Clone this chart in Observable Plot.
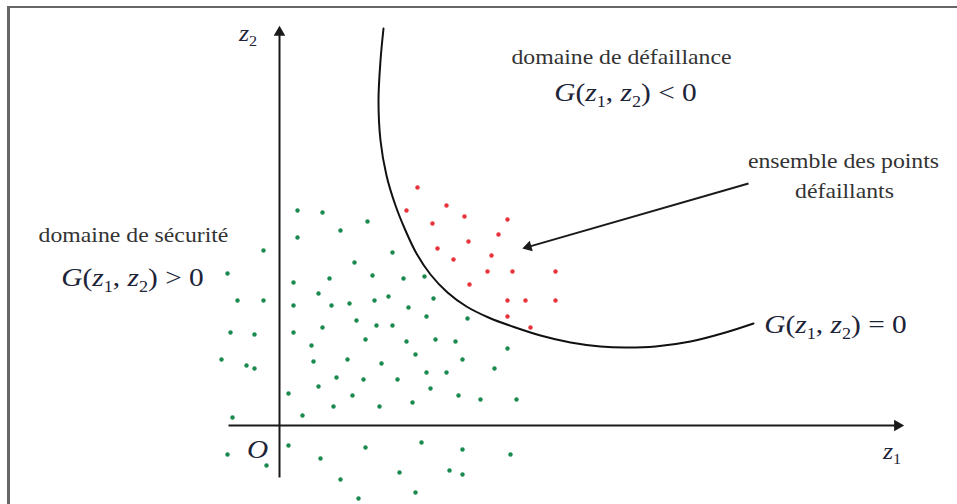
<!DOCTYPE html>
<html><head><meta charset="utf-8">
<script src="https://cdn.jsdelivr.net/npm/d3@7"></script>
<script src="https://cdn.jsdelivr.net/npm/@observablehq/plot@0.6"></script>
<style>
body{margin:0;background:#fff}
#wrap{position:relative;width:957px;height:504px;overflow:hidden}
#frame{position:absolute;left:7px;top:6px;right:-4px;bottom:-4px;border-top:2px solid #666;border-left:3px solid #666;pointer-events:none}
#wrap svg{position:absolute;left:0;top:0}
</style></head><body>
<div id="wrap"><div id="frame"></div></div>
<script>
// ---- data (schematic units) ----
const safeZ1 = [1.8,4.3,8.8,6.1,1.8,-1.6,7.5,-5.2,9.3,1.4,5.0,3.9,-4.2,-1.6,1.4,5.2,7.0,9.5,7.7,-4.9,-2.5,1.4,4.3,9.7,8.6,3.2,-5.8,-3.3,-2.5,3.4,6.8,10.2,5.7,8.4,3.9,0.9,7.3,5.4,10.0,2.3,-4.7,0.9,-5.2,4.1,-1.3,8.6,6.1,7.9,11.3,12.4,14.5,10.9,15.4,12.9,14.7,18.8,11.3,12.7,15.6,17.6,22.8,13.6,18.3,14.7,16.7,21.5,11.8,15.1,17.9,20.1,23.7,13.3,14.2,18.3,23.1,12.0,17.0,18.3,13.6];
const safeZ2 = [21.5,21.3,20.4,19.5,18.8,17.5,16.3,15.2,15.0,14.3,14.7,13.2,12.5,12.5,12.0,12.0,12.2,12.5,10.5,9.3,9.1,9.3,9.8,10.0,8.6,8.0,6.6,6.0,5.7,6.4,6.6,6.2,4.8,4.6,3.9,3.2,3.0,1.9,1.9,1.0,0.8,-2.0,-2.9,-3.3,-4.0,-2.2,-5.4,-7.3,17.3,14.7,14.9,12.9,12.7,11.8,10.9,10.7,10.0,8.4,8.6,8.4,7.7,7.1,6.6,5.3,5.3,5.7,4.6,3.7,3.0,2.6,2.6,2.3,-1.7,-2.4,-2.9,-4.7,-4.5,-4.9,-6.7];
const failZ1 = [13.8,12.7,16.7,18.5,22.8,15.3,21.9,18.9,15.8,21.2,17.4,20.8,23.3,27.6,19.0,22.8,24.6,27.6,22.8,25.1];
const failZ2 = [23.8,21.5,22.0,20.9,20.6,20.2,19.1,18.4,17.7,17.0,16.6,15.4,15.4,15.4,14.1,12.5,12.5,12.5,10.9,9.8];
const curveZ1 = [10.4,10.1,9.9,10.1,10.7,11.6,12.6,13.7,15.1,16.8,18.7,20.9,23.3,26.1,29.1,32.1,34.6,37.6,41.1,44.6,47.4];
const curveZ2 = [39.7,36.5,32.5,28.5,25.0,22.0,19.5,17.2,15.1,13.3,11.9,10.8,9.9,9.0,8.3,7.9,7.8,7.9,8.4,9.3,10.2];
const z1AxisExtent = [-5.1, 62.4];
const z2AxisExtent = [-5.2, 39.9];
const pointerFrom = [46.9, 24.2];
const pointerTo = [24.3, 17.7];
const labelText = ["domaine de défaillance","G(z₁, z₂) < 0","ensemble des points","défaillants","domaine de sécurité","G(z₁, z₂) > 0","G(z₁, z₂) = 0","z₂","O","z₁"];
const labelZ1 = [34.2,34.6,56.4,56.5,-14.6,-14.7,55.6,-3.15,-2.2,61.25];
const labelZ2 = [36.8,33.3,26.4,23.4,19.0,14.8,10.1,39.2,-2.4,-2.6];
const labelKind = ["word","formula","word","word","word","formula","formula","symbol","formula","symbol"];

// ---- build tables ----
const safe = safeZ1.map((z1, i) => ({z1, z2: safeZ2[i]}));
const fail = failZ1.map((z1, i) => ({z1, z2: failZ2[i]}));
const curve = curveZ1.map((z1, i) => ({z1, z2: curveZ2[i]}));
const labels = labelText.map((t, i) => ({t, z1: labelZ1[i], z2: labelZ2[i], kind: labelKind[i]}));

const headOffset = 0.6;
function arrowRow(from, to) {
  const dz1 = to[0] - from[0], dz2 = to[1] - from[1];
  const L = Math.hypot(dz1, dz2);
  const cz1 = to[0] - headOffset * dz1 / L, cz2 = to[1] - headOffset * dz2 / L;
  return {x1: from[0], y1: from[1], x2: cz1, y2: cz2, hx: cz1, hy: cz2,
          angle: Math.atan2(dz1, dz2) * 180 / Math.PI};
}
const axisArrows = [
  arrowRow([z1AxisExtent[0], 0], [z1AxisExtent[1], 0]),
  arrowRow([0, z2AxisExtent[0]], [0, z2AxisExtent[1]])
];
const pointer = [arrowRow(pointerFrom, pointerTo)];

const serif = "Liberation Serif, Times New Roman, serif";
const chart = Plot.plot({
  width: 957, height: 504,
  marginTop: 0, marginRight: 0, marginBottom: 0, marginLeft: 0,
  x: {domain: [-27.9, 67.8], axis: null},
  y: {domain: [-7.9, 42.5], axis: null},
  style: {background: "transparent", overflow: "visible"},
  marks: [
    Plot.link(axisArrows, {x1: "x1", y1: "y1", x2: "x2", y2: "y2", stroke: "#1a1a1a", strokeWidth: 2}),
    Plot.dot(axisArrows, {x: "hx", y: "hy", symbol: "triangle", r: 4.3, rotate: "angle", fill: "#1a1a1a", stroke: "none"}),
    Plot.line(curve, {x: "z1", y: "z2", curve: "catmull-rom", stroke: "#111", strokeWidth: 2}),
    Plot.dot(safe, {x: "z1", y: "z2", r: 2.2, fill: "#1b8a4e", stroke: "none"}),
    Plot.dot(fail, {x: "z1", y: "z2", r: 2.2, fill: "#e8333b", stroke: "none"}),
    Plot.link(pointer, {x1: "x1", y1: "y1", x2: "x2", y2: "y2", stroke: "#1a1a1a", strokeWidth: 2}),
    Plot.dot(pointer, {x: "hx", y: "hy", symbol: "triangle", r: 4, rotate: "angle", fill: "#1a1a1a", stroke: "none"}),
    Plot.text(labels.filter(d => d.kind === "word"), {x: "z1", y: "z2", text: "t", fontSize: 21, fontFamily: serif, fill: "#333"}),
    Plot.text(labels.filter(d => d.kind === "formula"), {x: "z1", y: "z2", text: "t", fontSize: 26, fontFamily: serif, fill: "#1d2438"}),
    Plot.text(labels.filter(d => d.kind === "symbol"), {x: "z1", y: "z2", text: "t", fontSize: 23, fontFamily: serif, fill: "#1d2438"})
  ]
});
document.getElementById("wrap").appendChild(chart);

// ---- typeset math-like labels and widen the serif glyphs like the source figure ----
const SUBS = "₀₁₂₃₄₅₆₇₈₉";
const NS = "http://www.w3.org/2000/svg";
const STRETCH = 1.13;
chart.querySelectorAll("text").forEach(el => {
  const s = el.textContent;
  const isMath = /[₀-₉]/.test(s) || s === "O";
  if (isMath) {
    const fs = parseFloat(getComputedStyle(el).fontSize) || 24;
    const shift = fs * 0.22;
    el.textContent = "";
    el.style.whiteSpace = "pre";
    let down = false;
    for (const ch of s) {
      const t = document.createElementNS(NS, "tspan");
      const k = SUBS.indexOf(ch);
      if (k >= 0) {
        t.textContent = String(k);
        t.setAttribute("font-size", (fs * 0.62).toFixed(1));
        if (!down) { t.setAttribute("dy", shift.toFixed(1)); down = true; }
      } else {
        t.textContent = ch;
        if (down) { t.setAttribute("dy", (-shift).toFixed(1)); down = false; }
        if (/[A-Za-z]/.test(ch)) t.setAttribute("font-style", "italic");
      }
      el.appendChild(t);
    }
  }
  const len = el.getComputedTextLength();
  el.setAttribute("textLength", (len * STRETCH).toFixed(1));
  el.setAttribute("lengthAdjust", "spacingAndGlyphs");
});
</script>
</body></html>
